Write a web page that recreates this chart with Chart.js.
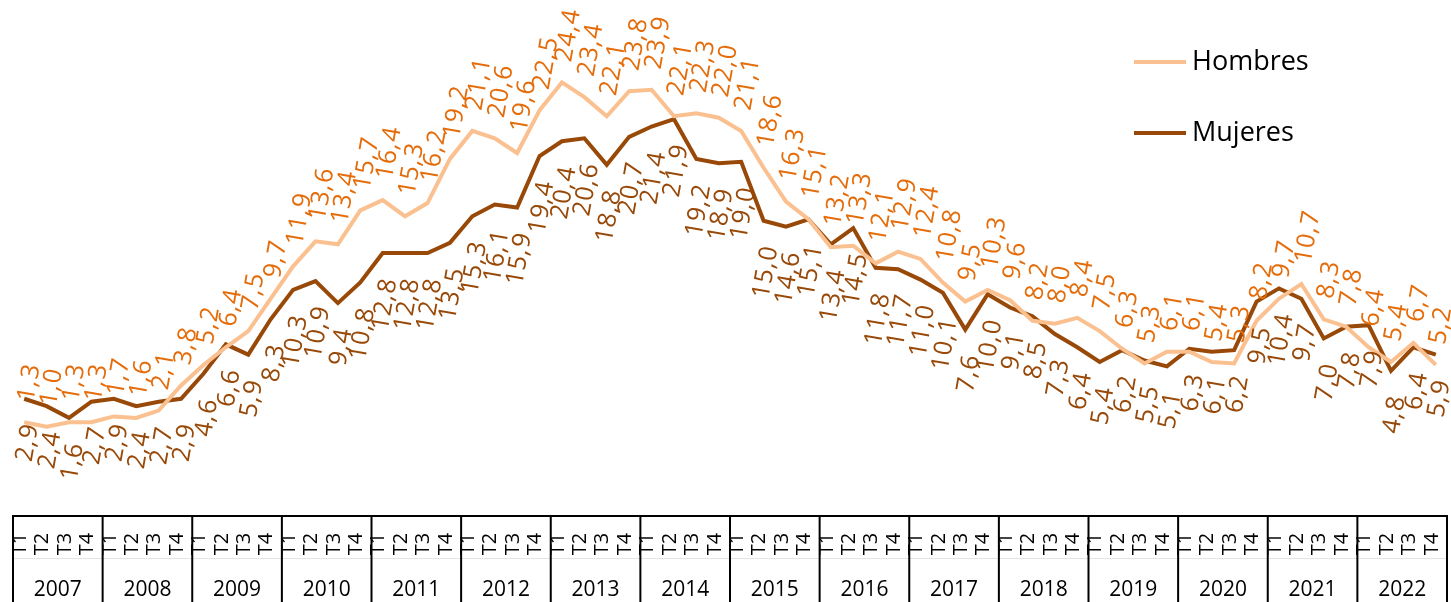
<!DOCTYPE html>
<html>
<head>
<meta charset="utf-8">
<script src="https://cdn.jsdelivr.net/npm/chart.js@4.4.1/dist/chart.umd.min.js"></script>
<style>
  html, body { margin: 0; padding: 0; background: #fff; }
  canvas { display: block; }
</style>
</head>
<body>
<canvas id="myChart" width="1451" height="602"></canvas>
<script>
const years = ["2007", "2008", "2009", "2010", "2011", "2012", "2013", "2014",
               "2015", "2016", "2017", "2018", "2019", "2020", "2021", "2022"];
const quarters = ["T1", "T2", "T3", "T4"];

const hombres = [
  1.3, 1.0, 1.3, 1.3,   1.7, 1.6, 2.1, 3.8,   5.2, 6.4, 7.5, 9.7,
  11.9, 13.6, 13.4, 15.7,   16.4, 15.3, 16.2, 19.2,   21.1, 20.6, 19.6, 22.5,
  24.4, 23.4, 22.1, 23.8,   23.9, 22.1, 22.3, 22.0,   21.1, 18.6, 16.3, 15.1,
  13.2, 13.3, 12.1, 12.9,   12.4, 10.8, 9.5, 10.3,   9.6, 8.2, 8.0, 8.4,
  7.5, 6.3, 5.3, 6.1,   6.1, 5.4, 5.3, 8.2,   9.7, 10.7, 8.3, 7.8,
  6.4, 5.4, 6.7, 5.2
];
const mujeres = [
  2.9, 2.4, 1.6, 2.7,   2.9, 2.4, 2.7, 2.9,   4.6, 6.6, 5.9, 8.3,
  10.3, 10.9, 9.4, 10.8,   12.8, 12.8, 12.8, 13.5,   15.3, 16.1, 15.9, 19.4,
  20.4, 20.6, 18.8, 20.7,   21.4, 21.9, 19.2, 18.9,   19.0, 15.0, 14.6, 15.1,
  13.4, 14.5, 11.8, 11.7,   11.0, 10.1, 7.6, 10.0,   9.1, 8.5, 7.3, 6.4,
  5.4, 6.2, 5.5, 5.1,   6.3, 6.1, 6.2, 9.5,   10.4, 9.7, 7.0, 7.8,
  7.9, 4.8, 6.4, 5.9
];

const labels = years.flatMap(y => quarters.map(q => q + " " + y));
const fmt = v => v.toFixed(1).replace(".", ",");

// draws the value labels, the quarter/year table under the plot and the legend
const extras = {
  id: "extras",
  afterDatasetsDraw(chart) {
    const ctx = chart.ctx;
    ctx.save();
    ctx.font = "25px 'Open Sans'";
    ctx.letterSpacing = "1px";
    ctx.textBaseline = "middle";
    chart.data.datasets.forEach((ds, di) => {
      const meta = chart.getDatasetMeta(di);
      meta.data.forEach((pt, i) => {
        ctx.save();
        if (di === 0) {
          ctx.translate(pt.x + 2, pt.y - 21);
          ctx.textAlign = "left";
        } else {
          ctx.translate(pt.x + 7, pt.y + 25);
          ctx.textAlign = "right";
        }
        ctx.rotate(-80 * Math.PI / 180);
        ctx.fillStyle = ds.labelColor;
        ctx.fillText(fmt(ds.data[i]), 0, 0);
        ctx.restore();
      });
    });
    ctx.restore();
  },
  afterDraw(chart) {
    const ctx = chart.ctx;
    const x = chart.scales.x;
    const area = chart.chartArea;
    const step = x.getPixelForValue(1) - x.getPixelForValue(0);
    const top = area.bottom;
    const bottom = chart.height;

    ctx.save();
    // faint divider between quarter row and year row
    ctx.strokeStyle = "#e4e4e4";
    ctx.lineWidth = 1;
    ctx.beginPath();
    ctx.moveTo(x.getPixelForValue(0) - step / 2, 558.5);
    ctx.lineTo(x.getPixelForValue(labels.length - 1) + step / 2, 558.5);
    ctx.stroke();

    ctx.strokeStyle = "#000";
    ctx.lineWidth = 2;
    ctx.beginPath();
    ctx.moveTo(x.getPixelForValue(0) - step / 2, top + 1);
    ctx.lineTo(x.getPixelForValue(labels.length - 1) + step / 2, top + 1);
    for (let k = 0; k <= years.length; k++) {
      const bx = k < years.length
        ? x.getPixelForValue(k * 4) - step / 2
        : x.getPixelForValue(labels.length - 1) + step / 2;
      ctx.moveTo(bx, top);
      ctx.lineTo(bx, bottom);
    }
    ctx.stroke();

    ctx.fillStyle = "#000";
    // quarter labels
    ctx.font = "20px 'Open Sans'";
    ctx.textAlign = "center";
    ctx.textBaseline = "middle";
    labels.forEach((lab, i) => {
      ctx.save();
      ctx.translate(x.getPixelForValue(i) - 4, 544);
      ctx.rotate(-Math.PI / 2);
      ctx.fillText(quarters[i % 4], 0, 0);
      ctx.restore();
    });
    // year labels
    ctx.font = "21px 'Open Sans'";
    years.forEach((yr, k) => {
      const cx = (x.getPixelForValue(k * 4) + x.getPixelForValue(k * 4 + 3)) / 2;
      ctx.fillText(yr, cx, 590);
    });

    // legend
    const items = [
      { text: "Hombres", color: "#FAC090", y: 62 },
      { text: "Mujeres", color: "#984807", y: 133 }
    ];
    ctx.font = "27px 'Open Sans'";
    ctx.textAlign = "left";
    items.forEach(it => {
      ctx.strokeStyle = it.color;
      ctx.lineWidth = 4;
      ctx.beginPath();
      ctx.moveTo(1134, it.y);
      ctx.lineTo(1186, it.y);
      ctx.stroke();
      ctx.fillStyle = "#000";
      ctx.fillText(it.text, 1192, it.y);
    });
    ctx.restore();
  }
};

const ctx = document.getElementById("myChart").getContext("2d");

const data = {
  labels,
  datasets: [
    {
      label: "Hombres",
      data: hombres,
      borderColor: "#FAC090",
      borderWidth: 4,
      labelColor: "#E46C0A",
      pointRadius: 0,
      tension: 0,
    },
    {
      label: "Mujeres",
      data: mujeres,
      borderColor: "#984807",
      borderWidth: 4,
      labelColor: "#984807",
      pointRadius: 0,
      tension: 0,
    },
  ],
};

const config = {
  type: "line",
  data: data,
  options: {
    responsive: false,
    animation: false,
    devicePixelRatio: 1,
    layout: { padding: { left: 13, right: 4, top: 0, bottom: 87 } },
    scales: {
      x: { display: false, offset: true },
      y: { display: false, min: -5, max: 30 },
    },
    plugins: {
      legend: { display: false },
      tooltip: { enabled: false },
    },
  },
  plugins: [extras],
};

const myChart = new Chart(ctx, config);
</script>
</body>
</html>
